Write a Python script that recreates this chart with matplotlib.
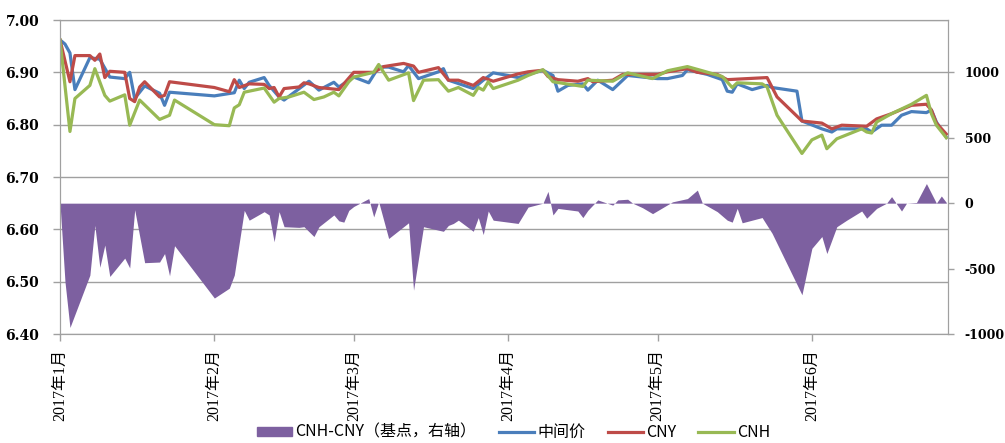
import numpy as np
import pandas as pd
import matplotlib
matplotlib.use('Agg')
import matplotlib.pyplot as plt
from matplotlib.patches import Patch
from matplotlib.lines import Line2D
from matplotlib.ticker import FormatStrFormatter, FuncFormatter

# CNH-CNY spread, basis points (right axis)
spread_dates = ['01-01', '01-02', '01-03', '01-07', '01-08', '01-09', '01-10', '01-11',
                '01-14', '01-15', '01-16', '01-18', '01-21', '01-22', '01-23', '01-24',
                '02-01', '02-04', '02-05', '02-07', '02-08', '02-11', '02-12', '02-13',
                '02-14', '02-15', '02-18', '02-19', '02-21', '02-22', '02-25', '02-26',
                '02-27', '02-28', '03-01', '03-04', '03-05', '03-06', '03-08', '03-12',
                '03-13', '03-15', '03-19', '03-20', '03-21', '03-22', '03-25', '03-26',
                '03-27', '03-28', '03-29', '04-03', '04-05', '04-08', '04-09', '04-10',
                '04-11', '04-15', '04-16', '04-17', '04-19', '04-22', '04-23', '04-25',
                '04-26', '04-28', '04-30', '05-04', '05-07', '05-09', '05-10', '05-13',
                '05-15', '05-16', '05-17', '05-18', '05-22', '05-24', '05-30', '06-01',
                '06-03', '06-04', '06-06', '06-08', '06-11', '06-12', '06-14', '06-16',
                '06-17', '06-19', '06-20', '06-22', '06-24', '06-26', '06-27', '06-28']
spread_bp = [0, -600, -950, -550, -170, -490, -320, -560,
             -420, -495, -50, -455, -450, -385, -555, -325,
             -725, -650, -550, -55, -130, -65, -90, -295,
             -65, -180, -185, -180, -255, -180, -90, -135,
             -145, -55, -25, 35, -105, 10, -270, -150,
             -665, -180, -215, -170, -155, -130, -215, -110,
             -240, -60, -130, -155, -30, 0, 90, -90,
             -40, -60, -110, -55, 25, -15, 25, 30,
             0, -35, -80, 10, 35, 100, 0, -65,
             -130, -145, -40, -150, -110, -230, -700, -345,
             -255, -385, -180, -130, -60, -115, -40, 0,
             50, -60, 0, 5, 150, 0, 55, 5]

# central parity (中间价)
mid_dates = ['01-01', '01-02', '01-03', '01-04', '01-07', '01-09', '01-11', '01-14',
             '01-15', '01-16', '01-18', '01-21', '01-22', '01-23', '02-01', '02-05',
             '02-06', '02-07', '02-08', '02-11', '02-12', '02-14', '02-15', '02-20',
             '02-22', '02-25', '02-26', '03-01', '03-04', '03-06', '03-08', '03-11',
             '03-12', '03-14', '03-18', '03-19', '03-20', '03-25', '03-27', '03-29',
             '04-01', '04-03', '04-05', '04-08', '04-10', '04-11', '04-13', '04-16',
             '04-17', '04-19', '04-22', '04-24', '04-25', '05-01', '05-03', '05-06',
             '05-07', '05-11', '05-14', '05-15', '05-16', '05-17', '05-20', '05-23',
             '05-24', '05-29', '05-30', '06-03', '06-05', '06-06', '06-12', '06-13',
             '06-15', '06-17', '06-19', '06-21', '06-24', '06-25', '06-26', '06-28']
mid_rate = [6.962, 6.954, 6.937, 6.867, 6.928, 6.925, 6.891, 6.888,
            6.900, 6.850, 6.874, 6.860, 6.837, 6.862, 6.855, 6.861,
            6.885, 6.869, 6.881, 6.890, 6.875, 6.853, 6.847, 6.883,
            6.866, 6.881, 6.872, 6.891, 6.880, 6.910, 6.910, 6.901,
            6.913, 6.888, 6.901, 6.907, 6.885, 6.869, 6.885, 6.899,
            6.894, 6.890, 6.896, 6.904, 6.894, 6.864, 6.875, 6.878,
            6.866, 6.885, 6.867, 6.885, 6.894, 6.888, 6.888, 6.894,
            6.905, 6.896, 6.886, 6.864, 6.862, 6.878, 6.867, 6.875,
            6.871, 6.864, 6.807, 6.792, 6.786, 6.792, 6.792, 6.786,
            6.799, 6.799, 6.818, 6.825, 6.823, 6.828, 6.805, 6.776]

# onshore CNY
cny_dates = ['01-01', '01-03', '01-04', '01-07', '01-08', '01-09', '01-10', '01-11',
             '01-14', '01-15', '01-16', '01-17', '01-18', '01-21', '01-22', '01-23',
             '02-01', '02-04', '02-05', '02-06', '02-08', '02-11', '02-12', '02-13',
             '02-14', '02-15', '02-18', '02-19', '02-20', '02-22', '02-26', '03-01',
             '03-05', '03-07', '03-11', '03-13', '03-14', '03-18', '03-20', '03-22',
             '03-25', '03-27', '03-29', '04-03', '04-05', '04-08', '04-09', '04-11',
             '04-15', '04-17', '04-18', '04-22', '04-24', '05-01', '05-03', '05-05',
             '05-07', '05-09', '05-13', '05-15', '05-19', '05-23', '05-25', '05-30',
             '06-03', '06-05', '06-07', '06-12', '06-14', '06-17', '06-21', '06-24',
             '06-25', '06-26', '06-28']
cny_rate = [6.962, 6.882, 6.932, 6.932, 6.923, 6.935, 6.890, 6.902,
            6.900, 6.850, 6.844, 6.872, 6.882, 6.853, 6.856, 6.882,
            6.871, 6.863, 6.886, 6.871, 6.878, 6.877, 6.869, 6.871,
            6.853, 6.869, 6.872, 6.880, 6.878, 6.871, 6.867, 6.900,
            6.900, 6.911, 6.917, 6.912, 6.900, 6.909, 6.885, 6.885,
            6.875, 6.890, 6.883, 6.897, 6.901, 6.904, 6.892, 6.886,
            6.883, 6.888, 6.882, 6.885, 6.896, 6.896, 6.901, 6.904,
            6.907, 6.900, 6.896, 6.886, 6.888, 6.890, 6.853, 6.807,
            6.803, 6.792, 6.799, 6.797, 6.811, 6.821, 6.837, 6.839,
            6.828, 6.803, 6.782]

# offshore CNH
cnh_dates = ['01-01', '01-03', '01-04', '01-07', '01-08', '01-10', '01-11', '01-14',
             '01-15', '01-17', '01-21', '01-23', '01-24', '02-01', '02-04', '02-05',
             '02-06', '02-07', '02-11', '02-13', '02-14', '02-16', '02-19', '02-21',
             '02-23', '02-25', '02-26', '02-28', '03-01', '03-05', '03-06', '03-08',
             '03-12', '03-13', '03-15', '03-18', '03-20', '03-22', '03-25', '03-26',
             '03-27', '03-28', '03-29', '04-03', '04-05', '04-08', '04-10', '04-16',
             '04-17', '04-22', '04-25', '04-30', '05-03', '05-07', '05-10', '05-14',
             '05-16', '05-17', '05-22', '05-23', '05-25', '05-30', '06-01', '06-03',
             '06-04', '06-06', '06-11', '06-12', '06-13', '06-14', '06-17', '06-21',
             '06-24', '06-25', '06-26', '06-28']
cnh_rate = [6.962, 6.787, 6.850, 6.875, 6.907, 6.856, 6.845, 6.857,
            6.799, 6.847, 6.810, 6.818, 6.847, 6.800, 6.798, 6.832,
            6.838, 6.862, 6.870, 6.843, 6.850, 6.853, 6.862, 6.848,
            6.853, 6.862, 6.855, 6.882, 6.891, 6.900, 6.915, 6.885,
            6.899, 6.846, 6.885, 6.886, 6.864, 6.871, 6.856, 6.871,
            6.866, 6.882, 6.869, 6.885, 6.894, 6.905, 6.882, 6.873,
            6.885, 6.883, 6.899, 6.888, 6.903, 6.911, 6.903, 6.892,
            6.871, 6.880, 6.878, 6.872, 6.818, 6.745, 6.771, 6.780,
            6.754, 6.773, 6.792, 6.786, 6.784, 6.805, 6.821, 6.839,
            6.856, 6.821, 6.799, 6.775]

month_ticks = ['01-01', '02-01', '03-01', '04-01', '05-01', '06-01']
month_labels = ['2017年1月', '2017年2月', '2017年3月', '2017年4月', '2017年5月', '2017年6月']


def to_dt(days):
    return pd.to_datetime(['2017-' + d for d in days])


grey = '#A0A0A0'
fig = plt.figure(figsize=(10.05, 4.43), dpi=100)
ax = fig.add_axes([60 / 1005, 1 - 334 / 443, 888 / 1005, 314 / 443])
ax2 = ax.twinx()

ax.plot(to_dt(mid_dates), mid_rate, color='#4A7EBB', lw=2.3)
ax.plot(to_dt(cny_dates), cny_rate, color='#BE4B48', lw=2.3)
ax.plot(to_dt(cnh_dates), cnh_rate, color='#98B954', lw=2.3)
ax2.fill_between(to_dt(spread_dates), 0, spread_bp, color='#7D60A0', lw=0)

ax.set_xlim(pd.Timestamp('2017-01-01'), pd.Timestamp('2017-06-28 08:00'))
ax.set_ylim(6.4, 7.0)
ax.set_yticks(np.arange(6.4, 7.001, 0.1))
ax.yaxis.set_major_formatter(FormatStrFormatter('%.2f'))
ax.yaxis.grid(True, color=grey, lw=1)
ax.set_axisbelow(True)

ax2.set_ylim(-1000, 1400)
ax2.set_yticks([-1000, -500, 0, 500, 1000])
ax2.yaxis.set_major_formatter(FuncFormatter(lambda v, p: '%d' % v))

ax.set_xticks(to_dt(month_ticks))
ax.set_xticklabels(month_labels, rotation=90, fontsize=11.5,
                   family=['Liberation Serif', 'Noto Sans CJK SC'])

for a in (ax, ax2):
    for s in a.spines.values():
        s.set_color(grey)
    a.tick_params(colors=grey, labelcolor='black', length=5, width=1)
for lab in ax.get_yticklabels():
    lab.set_family('DejaVu Serif')
    lab.set_fontweight('bold')
    lab.set_fontsize(10)
for lab in ax2.get_yticklabels():
    lab.set_family('DejaVu Serif')
    lab.set_fontweight('bold')
    lab.set_fontsize(9)
ax.tick_params(axis='y', pad=10)
ax2.tick_params(axis='y', pad=8, length=4)
ax.tick_params(axis='x', pad=6)

handles = [Patch(color='#7D60A0'),
           Line2D([], [], color='#4A7EBB', lw=2.3),
           Line2D([], [], color='#BE4B48', lw=2.3),
           Line2D([], [], color='#98B954', lw=2.3)]
labels = ['CNH-CNY（基点，右轴）', '中间价', 'CNY', 'CNH']
fig.legend(handles, labels, loc='center', bbox_to_anchor=(0.511, 0.024), ncol=4,
           frameon=False, prop={'family': 'Noto Sans CJK SC', 'size': 11.5},
           handlelength=2.2, handleheight=0.5, columnspacing=1.4, handletextpad=0.2,
           borderpad=0.2)

fig.savefig('out.png', dpi=100)
